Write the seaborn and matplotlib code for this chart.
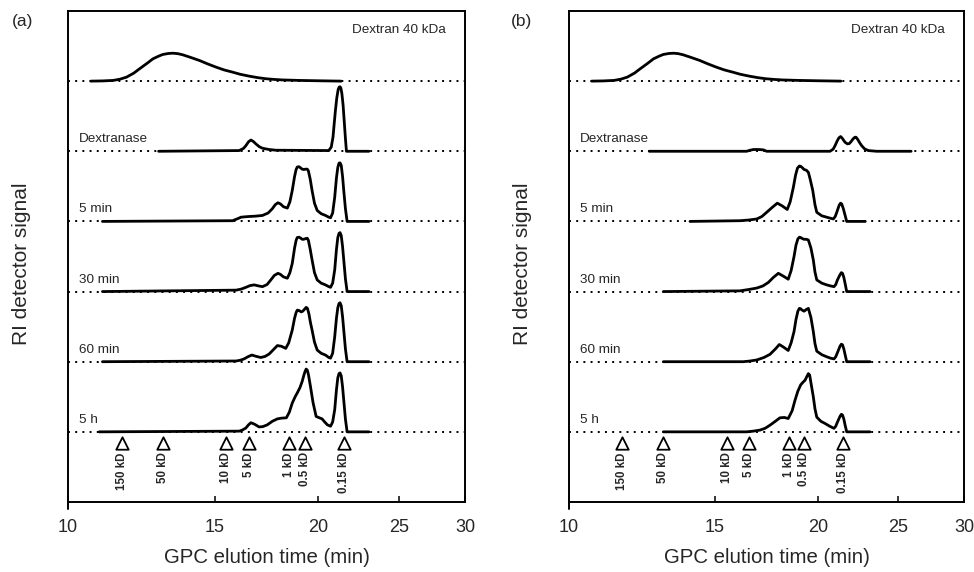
import matplotlib
matplotlib.use("Agg")
import matplotlib.pyplot as plt
import pandas as pd
import seaborn as sns

sns.set_theme(style="white")
plt.rcParams["font.family"] = ["Liberation Sans", "DejaVu Sans"]

# ---- chromatograms: elution time (min) and RI signal (trace-spacing units) ----
sample_names = ["Dextran 40 kDa", "Dextranase", "5 min", "30 min", "60 min", "5 h"]
trace_offsets = [6, 5, 4, 3, 2, 1]

dextran_t = [10.65, 11.0, 11.33, 11.55, 11.76, 12.0, 12.19, 12.45, 12.65, 12.85, 13.0,
             13.2, 13.37, 13.55, 13.74, 14.05, 14.39, 14.7, 15.06, 15.4, 15.77, 16.1,
             16.51, 16.9, 17.29, 17.7, 18.1, 18.95, 20.0, 21.3]
dextran_h = [0, 0.003, 0.01, 0.028, 0.057, 0.115, 0.176, 0.255, 0.318, 0.356, 0.38,
             0.394, 0.398, 0.392, 0.375, 0.337, 0.294, 0.248, 0.2, 0.16, 0.128, 0.098,
             0.071, 0.05, 0.034, 0.024, 0.017, 0.01, 0.005, 0]

# panel (a)
a_enzyme_t = [12.85, 16.06, 16.25, 16.36, 16.48, 16.59, 16.7, 16.82, 16.98, 17.13, 17.45,
              17.77, 20.58, 20.72, 20.82, 20.9, 20.96, 21.04, 21.12, 21.18, 21.23, 21.28,
              21.34, 21.41, 21.48, 21.55, 21.61, 23.0]
a_enzyme_h = [0, 0.01, 0.04, 0.08, 0.135, 0.16, 0.14, 0.105, 0.065, 0.043, 0.025,
              0.015, 0.01, 0.06, 0.2, 0.42, 0.58, 0.76, 0.88, 0.915, 0.92, 0.9,
              0.82, 0.66, 0.42, 0.18, 0, 0]
a_5min_t = [11.0, 15.77, 16.0, 16.14, 16.3, 16.51, 16.8, 17.13, 17.4, 17.6, 17.75, 17.88,
            18.0, 18.15, 18.35, 18.48, 18.6, 18.72, 18.8, 18.86, 18.95, 19.05, 19.12,
            19.2, 19.3, 19.39, 19.45, 19.55, 19.65, 19.78, 19.93, 20.15, 20.39, 20.58,
            20.68, 20.8, 20.92, 21.02, 21.1, 21.17, 21.23, 21.3, 21.38, 21.45, 21.55,
            21.65, 23.0]
a_5min_h = [0, 0.01, 0.04, 0.06, 0.065, 0.07, 0.075, 0.085, 0.12, 0.18, 0.24, 0.266,
            0.25, 0.21, 0.19, 0.28, 0.44, 0.64, 0.74, 0.775, 0.78, 0.76, 0.745,
            0.74, 0.745, 0.745, 0.72, 0.6, 0.44, 0.26, 0.156, 0.11, 0.085, 0.06,
            0.052, 0.12, 0.345, 0.62, 0.77, 0.83, 0.835, 0.8, 0.64, 0.44, 0.18,
            0, 0]
a_30min_t = [11.0, 15.92, 16.15, 16.36, 16.55, 16.74, 16.95, 17.13, 17.35, 17.53, 17.7,
             17.88, 18.0, 18.15, 18.35, 18.48, 18.6, 18.72, 18.8, 18.86, 18.95, 19.05,
             19.12, 19.2, 19.3, 19.39, 19.45, 19.55, 19.65, 19.78, 19.93, 20.15, 20.39,
             20.58, 20.68, 20.8, 20.92, 21.02, 21.1, 21.17, 21.23, 21.3, 21.38, 21.45,
             21.55, 21.65, 23.0]
a_30min_h = [0, 0.02, 0.035, 0.06, 0.085, 0.095, 0.08, 0.07, 0.1, 0.166, 0.23,
             0.26, 0.245, 0.21, 0.19, 0.27, 0.4, 0.62, 0.73, 0.77, 0.775, 0.76,
             0.745, 0.745, 0.755, 0.76, 0.73, 0.6, 0.45, 0.27, 0.166, 0.12, 0.095,
             0.07, 0.06, 0.12, 0.31, 0.6, 0.77, 0.83, 0.84, 0.8, 0.64, 0.45,
             0.18, 0, 0]
a_60min_t = [11.0, 15.92, 16.1, 16.28, 16.45, 16.63, 16.85, 17.05, 17.25, 17.45, 17.65,
             17.85, 18.05, 18.27, 18.42, 18.6, 18.72, 18.8, 18.86, 18.95, 19.07, 19.15,
             19.25, 19.33, 19.4, 19.48, 19.56, 19.65, 19.78, 19.93, 20.15, 20.39, 20.58,
             20.68, 20.8, 20.92, 21.02, 21.1, 21.17, 21.23, 21.3, 21.38, 21.45, 21.55,
             21.65, 23.0]
a_60min_h = [0, 0.01, 0.02, 0.04, 0.07, 0.095, 0.075, 0.06, 0.075, 0.11, 0.17,
             0.23, 0.22, 0.19, 0.27, 0.45, 0.62, 0.7, 0.735, 0.73, 0.71, 0.72,
             0.75, 0.775, 0.76, 0.68, 0.56, 0.45, 0.28, 0.166, 0.12, 0.095, 0.06,
             0.05, 0.12, 0.355, 0.62, 0.77, 0.83, 0.84, 0.8, 0.64, 0.45, 0.18,
             0, 0]
a_5h_t = [10.9, 16.06, 16.2, 16.36, 16.48, 16.59, 16.75, 16.97, 17.15, 17.36, 17.6,
          17.85, 18.05, 18.3, 18.45, 18.6, 18.75, 18.86, 19.0, 19.12, 19.2, 19.27,
          19.33, 19.39, 19.45, 19.56, 19.7, 19.87, 20.05, 20.2, 20.35, 20.5, 20.68,
          20.8, 20.92, 21.02, 21.1, 21.17, 21.23, 21.3, 21.38, 21.45, 21.55, 21.65, 23.0]
a_5h_h = [0, 0.01, 0.025, 0.055, 0.1, 0.13, 0.11, 0.07, 0.075, 0.1, 0.15,
          0.185, 0.195, 0.2, 0.28, 0.41, 0.5, 0.555, 0.63, 0.72, 0.8, 0.86,
          0.895, 0.88, 0.82, 0.65, 0.42, 0.22, 0.2, 0.185, 0.14, 0.1, 0.08,
          0.14, 0.317, 0.6, 0.77, 0.83, 0.84, 0.8, 0.64, 0.45, 0.18, 0, 0]

# panel (b)
b_enzyme_t = [12.5, 16.39, 16.55, 16.7, 16.95, 17.17, 17.33, 20.67, 20.85, 20.96, 21.07,
              21.18, 21.29, 21.4, 21.55, 21.7, 21.81, 21.92, 22.05, 22.15, 22.22, 22.32,
              22.45, 22.57, 22.75, 22.99, 23.53, 25.9]
b_enzyme_h = [0, 0, 0.015, 0.025, 0.025, 0.02, 0, 0, 0.03, 0.08, 0.14,
              0.19, 0.21, 0.18, 0.128, 0.105, 0.11, 0.14, 0.18, 0.2, 0.2, 0.17,
              0.12, 0.08, 0.035, 0.01, 0, 0]
b_5min_t = [14.0, 16.09, 16.5, 16.86, 17.1, 17.33, 17.6, 17.85, 18.1, 18.35, 18.5,
            18.66, 18.78, 18.88, 18.98, 19.05, 19.12, 19.23, 19.35, 19.46, 19.56, 19.7,
            19.82, 19.92, 20.2, 20.48, 20.7, 20.86, 20.97, 21.06, 21.2, 21.28, 21.35,
            21.45, 21.55, 21.65, 22.8]
b_5min_h = [0, 0.01, 0.02, 0.035, 0.07, 0.13, 0.2, 0.26, 0.22, 0.17, 0.28,
            0.48, 0.66, 0.76, 0.79, 0.785, 0.77, 0.74, 0.73, 0.7, 0.6, 0.44,
            0.24, 0.13, 0.08, 0.06, 0.045, 0.035, 0.07, 0.13, 0.23, 0.26, 0.25,
            0.18, 0.09, 0, 0]
b_30min_t = [13.0, 16.09, 16.5, 16.86, 17.15, 17.41, 17.65, 17.9, 18.15, 18.4, 18.55,
             18.7, 18.8, 18.9, 18.98, 19.05, 19.1, 19.23, 19.35, 19.46, 19.6, 19.73,
             19.82, 19.92, 20.2, 20.48, 20.7, 20.9, 21.0, 21.1, 21.25, 21.33, 21.4,
             21.48, 21.55, 21.65, 23.1]
b_30min_h = [0, 0.01, 0.03, 0.05, 0.08, 0.13, 0.2, 0.26, 0.22, 0.176, 0.3,
             0.5, 0.66, 0.75, 0.775, 0.77, 0.76, 0.745, 0.745, 0.735, 0.62, 0.45,
             0.28, 0.166, 0.12, 0.095, 0.08, 0.07, 0.1, 0.166, 0.24, 0.27, 0.26,
             0.2, 0.12, 0, 0]
b_60min_t = [13.0, 16.24, 16.55, 16.86, 17.2, 17.49, 17.75, 17.95, 18.15, 18.4, 18.55,
             18.7, 18.8, 18.9, 18.98, 19.05, 19.1, 19.23, 19.35, 19.46, 19.6, 19.73,
             19.82, 19.92, 20.2, 20.48, 20.7, 20.9, 21.0, 21.1, 21.25, 21.33, 21.4,
             21.48, 21.55, 21.65, 23.1]
b_60min_h = [0, 0, 0.01, 0.025, 0.06, 0.105, 0.18, 0.245, 0.21, 0.16, 0.27,
             0.43, 0.6, 0.72, 0.76, 0.755, 0.74, 0.72, 0.745, 0.76, 0.63, 0.43,
             0.26, 0.15, 0.1, 0.07, 0.05, 0.04, 0.07, 0.13, 0.22, 0.25, 0.24,
             0.18, 0.105, 0, 0]
b_5h_t = [13.0, 16.39, 16.7, 17.01, 17.25, 17.49, 17.75, 17.98, 18.2, 18.4, 18.6,
          18.75, 18.9, 19.05, 19.18, 19.28, 19.38, 19.46, 19.53, 19.6, 19.73, 19.82,
          19.92, 20.15, 20.38, 20.65, 20.9, 21.0, 21.1, 21.25, 21.33, 21.4, 21.48,
          21.55, 21.65, 23.1]
b_5h_h = [0, 0, 0.01, 0.025, 0.05, 0.095, 0.15, 0.2, 0.205, 0.19, 0.3,
          0.45, 0.58, 0.67, 0.71, 0.735, 0.79, 0.83, 0.81, 0.7, 0.5, 0.33,
          0.21, 0.15, 0.12, 0.08, 0.05, 0.08, 0.14, 0.22, 0.25, 0.24, 0.18,
          0.1, 0, 0]

# molecular-weight calibration standards
standard_t = [11.6, 13.0, 15.5, 16.5, 18.45, 19.25, 21.45]
standard_labels = ["150 kD", "50 kD", "10 kD", "5 kD", "1 kD", "0.5 kD", "0.15 kD"]

x_ticks = [10, 15, 20, 25, 30]

panels = {
    "(a)": [(dextran_t, dextran_h), (a_enzyme_t, a_enzyme_h), (a_5min_t, a_5min_h),
            (a_30min_t, a_30min_h), (a_60min_t, a_60min_h), (a_5h_t, a_5h_h)],
    "(b)": [(dextran_t, dextran_h), (b_enzyme_t, b_enzyme_h), (b_5min_t, b_5min_h),
            (b_30min_t, b_30min_h), (b_60min_t, b_60min_h), (b_5h_t, b_5h_h)],
}


def build_frame(traces):
    rows = []
    for name, off, (ts, hs) in zip(sample_names, trace_offsets, traces):
        for t, h in zip(ts, hs):
            rows.append({"sample": name, "time": t, "signal": off + h})
    return pd.DataFrame(rows)


fig = plt.figure(figsize=(9.74, 5.72), dpi=100)
axes_rects = {"(a)": [0.0698, 0.1224, 0.4076, 0.8584],
              "(b)": [0.5842, 0.1224, 0.4055, 0.8584]}
panel_label_x = {"(a)": 0.012, "(b)": 0.525}

for tag, traces in panels.items():
    ax = fig.add_axes(axes_rects[tag])
    ax.set_xscale("log")
    ax.set_xlim(10, 30)
    ax.set_ylim(0, 7)

    # dotted baselines under every trace
    for off in trace_offsets:
        ax.axhline(off, color="black", lw=1.4, ls=(0, (1, 2.7)), zorder=1)

    df = build_frame(traces)
    sns.lineplot(data=df, x="time", y="signal", units="sample", estimator=None,
                 sort=False, color="black", lw=2.0, ax=ax, zorder=3)
    for ln in ax.lines:
        ln.set_solid_joinstyle("round")

    # sample names
    ax.text(0.952, 6.73, sample_names[0], transform=ax.get_yaxis_transform(),
            ha="right", va="center", fontsize=9.7)
    for name, off in zip(sample_names[1:], trace_offsets[1:]):
        ax.text(0.027, off + 0.17, name, transform=ax.get_yaxis_transform(),
                ha="left", va="center", fontsize=9.7)

    # calibration markers
    std_df = pd.DataFrame({"time": standard_t, "y": [0.845] * len(standard_t)})
    sns.scatterplot(data=std_df, x="time", y="y", marker="^", s=80,
                    facecolor="white", edgecolor="black", linewidth=1.3,
                    ax=ax, zorder=4)
    for t, lab in zip(standard_t, standard_labels):
        ax.text(t, 0.71, lab, rotation=90, ha="center", va="top",
                fontsize=8.3, fontweight="bold")

    # axes styling
    ax.xaxis.set_major_locator(matplotlib.ticker.FixedLocator(x_ticks))
    ax.xaxis.set_minor_locator(matplotlib.ticker.NullLocator())
    ax.set_xticklabels([str(v) for v in x_ticks])
    ax.set_yticks([])
    ax.tick_params(axis="x", direction="in", length=4, width=1.3, pad=12,
                   labelsize=13, bottom=True)
    for sp in ax.spines.values():
        sp.set_color("black")
        sp.set_linewidth(1.4)
    ax.plot([0, 0], [0, -0.015], transform=ax.transAxes, color="black",
            lw=1.4, clip_on=False)
    ax.set_xlabel("GPC elution time (min)", fontsize=14.7)
    ax.set_ylabel("RI detector signal", fontsize=15)
    ax.xaxis.set_label_coords(0.5, -0.093)
    ax.yaxis.set_label_coords(-0.094, 0.485)
    fig.text(panel_label_x[tag], 0.963, tag, ha="left", va="center", fontsize=12.5)

fig.savefig("out.png", dpi=100)
